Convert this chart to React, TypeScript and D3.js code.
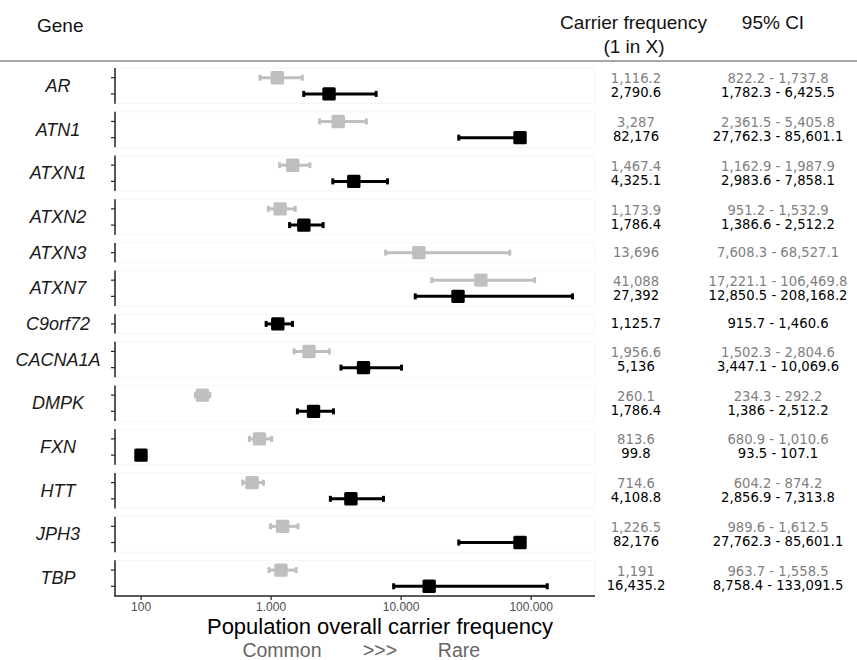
import React from "react";
import * as d3 from "d3";

// ---------- data ----------
const genes = ["AR", "ATN1", "ATXN1", "ATXN2", "ATXN3", "ATXN7", "C9orf72", "CACNA1A", "DMPK", "FXN", "HTT", "JPH3", "TBP"];

// light grey series (table values)
const greyFreq = [1116.2, 3287, 1467.4, 1173.9, 13696, 41088, null, 1956.6, 260.1, 813.6, 714.6, 1226.5, 1191];
const greyLo = [822.2, 2361.5, 1162.9, 951.2, 7608.3, 17221.1, null, 1502.3, 234.3, 680.9, 604.2, 989.6, 963.7];
const greyHi = [1737.8, 5405.8, 1987.9, 1532.9, 68527.1, 106469.8, null, 2804.6, 292.2, 1010.6, 874.2, 1612.5, 1558.5];

// black series (table values)
const blackFreq = [2790.6, 82176, 4325.1, 1786.4, null, 27392, 1125.7, 5136, 1786.4, 99.8, 4108.8, 82176, 16435.2];
const blackLo = [1782.3, 27762.3, 2983.6, 1386.6, null, 12850.5, 915.7, 3447.1, 1386, 93.5, 2856.9, 27762.3, 8758.4];
const blackHi = [6425.5, 85601.1, 7858.1, 2512.2, null, 208168.2, 1460.6, 10069.6, 2512.2, 107.1, 7313.8, 85601.1, 133091.5];

// plotted positions (DMPK markers sit off the table values)
const greyPlot = [1116.2, 3287, 1467.4, 1173.9, 13696, 41088, null, 1956.6, 296, 813.6, 714.6, 1226.5, 1191];
const greyPlotLo = [822.2, 2361.5, 1162.9, 951.2, 7608.3, 17221.1, null, 1502.3, 262, 680.9, 604.2, 989.6, 963.7];
const greyPlotHi = [1737.8, 5405.8, 1987.9, 1532.9, 68527.1, 106469.8, null, 2804.6, 338, 1010.6, 874.2, 1612.5, 1558.5];
const blackPlot = [2790.6, 82176, 4325.1, 1786.4, null, 27392, 1125.7, 5136, 2120, 99.8, 4108.8, 82176, 16435.2];
const blackPlotLo = [1782.3, 27762.3, 2983.6, 1386.6, null, 12850.5, 915.7, 3447.1, 1594, 93.5, 2856.9, 27762.3, 8758.4];
const blackPlotHi = [6425.5, 85601.1, 7858.1, 2512.2, null, 208168.2, 1460.6, 10069.6, 3017, 107.1, 7313.8, 85601.1, 133091.5];

const xTicks = [100, 1000, 10000, 100000];
const xTickLabels = ["100", "1.000", "10.000", "100.000"];

// ---------- layout ----------
const W = 857;
const H = 660;
const plotLeft = 115;
const plotRight = 595;
const plotTop = 68;
const plotBottom = 596;
const unit = 16.2;
const GREY = "#bfbfbf";
const TEXT_GREY = "#7f7f7f";

const fmt = d3.format(",");

export default function App() {
  const x = d3.scaleLog().domain([63, 310000]).range([plotLeft, plotRight]);

  const nRows = genes.map((_, i) => (greyPlot[i] != null ? 1 : 0) + (blackPlot[i] != null ? 1 : 0));
  const heights = nRows.map((n) => (n - 1 + 1.2) * unit);
  const totalH = d3.sum(heights);
  const gap = (plotBottom - plotTop - totalH) / (genes.length - 1);
  const tops: number[] = [];
  let acc = plotTop;
  heights.forEach((h) => {
    tops.push(acc);
    acc += h + gap;
  });

  const font = "'Liberation Sans', Arial, Helvetica, sans-serif";
  const tableFont = "'DejaVu Sans', Verdana, sans-serif";

  const errorbar = (lo: number, hi: number, val: number, y: number, color: string, key: string) => (
    <g key={key}>
      <line x1={x(lo)} x2={x(hi)} y1={y} y2={y} stroke={color} strokeWidth={3} />
      <rect x={x(lo) - 1.5} y={y - 3} width={3} height={6} fill={color} />
      <rect x={x(hi) - 1.5} y={y - 3} width={3} height={6} fill={color} />
      <rect x={x(val) - 6.7} y={y - 6.7} width={13.4} height={13.4} rx={1.5} fill={color} />
    </g>
  );

  return (
    <svg
      width={W}
      height={H}
      style={{ position: "absolute", left: 0, top: 0, background: "#fff" }}
      fontFamily={font}
    >
      {/* header */}
      <text x={37} y={32} fontSize={19} fill="#111">Gene</text>
      <text x={633.5} y={29} fontSize={19} fill="#111" textAnchor="middle">Carrier frequency</text>
      <text x={634} y={53} fontSize={19} fill="#111" textAnchor="middle">(1 in X)</text>
      <text x={773} y={29} fontSize={19} fill="#111" textAnchor="middle">95% CI</text>
      <line x1={0} x2={W} y1={61} y2={61} stroke="#a6a6a6" strokeWidth={2} />

      {genes.map((g, i) => {
        const top = tops[i];
        const h = heights[i];
        const cy = top + h / 2;
        const rows: { kind: string; y: number }[] = [];
        let r = 0;
        if (greyPlot[i] != null) rows.push({ kind: "grey", y: top + (0.6 + r++) * unit });
        if (blackPlot[i] != null) rows.push({ kind: "black", y: top + (0.6 + r++) * unit });
        const two = rows.length === 2;
        const textY = (kind: string) => (two ? (kind === "grey" ? cy - 7 : cy + 7) : cy);
        return (
          <g key={g}>
            <rect x={plotLeft} y={top} width={plotRight - plotLeft} height={h} fill="none" stroke="#f6f6f6" strokeWidth={1} />
            <text x={58} y={cy} fontSize={18} fontStyle="italic" textAnchor="middle" dominantBaseline="central" fill="#1a1a1a">
              {g}
            </text>
            <line x1={plotLeft} x2={plotLeft} y1={top} y2={top + h} stroke="#222" strokeWidth={1.5} />
            {rows.map((rw) => (
              <line key={rw.kind} x1={plotLeft - 4} x2={plotLeft} y1={rw.y} y2={rw.y} stroke="#222" strokeWidth={1.2} />
            ))}
            {rows.map((rw) =>
              rw.kind === "grey"
                ? errorbar(greyPlotLo[i] as number, greyPlotHi[i] as number, greyPlot[i] as number, rw.y, GREY, "g")
                : errorbar(blackPlotLo[i] as number, blackPlotHi[i] as number, blackPlot[i] as number, rw.y, "#000", "b")
            )}
            {rows.map((rw) => {
              const isGrey = rw.kind === "grey";
              const v = isGrey ? greyFreq[i] : blackFreq[i];
              const lo = isGrey ? greyLo[i] : blackLo[i];
              const hi = isGrey ? greyHi[i] : blackHi[i];
              const col = isGrey ? TEXT_GREY : "#000";
              return (
                <g key={"t" + rw.kind} fontFamily={tableFont} fontSize={13.2} fill={col}>
                  <text x={636} y={textY(rw.kind)} textAnchor="middle" dominantBaseline="central">
                    {fmt(v as number)}
                  </text>
                  <text x={778} y={textY(rw.kind)} textAnchor="middle" dominantBaseline="central" style={{ whiteSpace: "pre" }}>
                    {`${fmt(lo as number)} - ${fmt(hi as number)}`}
                  </text>
                </g>
              );
            })}
          </g>
        );
      })}

      {/* x axis */}
      <line x1={plotLeft - 0.75} x2={plotRight} y1={plotBottom} y2={plotBottom} stroke="#222" strokeWidth={1.5} />
      {xTicks.map((t, k) => (
        <g key={t}>
          <line x1={x(t)} x2={x(t)} y1={plotBottom} y2={plotBottom + 4} stroke="#222" strokeWidth={1.2} />
          <text x={x(t)} y={plotBottom + 11} fontSize={12} fill="#4d4d4d" textAnchor="middle" dominantBaseline="central">
            {xTickLabels[k]}
          </text>
        </g>
      ))}
      <text x={380} y={634} fontSize={22} fill="#000" textAnchor="middle">Population overall carrier frequency</text>
      <text x={282} y={657} fontSize={19.5} fill="#666" textAnchor="middle">Common</text>
      <text x={380} y={657} fontSize={19.5} fill="#666" textAnchor="middle">&gt;&gt;&gt;</text>
      <text x={459} y={657} fontSize={19.5} fill="#666" textAnchor="middle">Rare</text>
    </svg>
  );
}
